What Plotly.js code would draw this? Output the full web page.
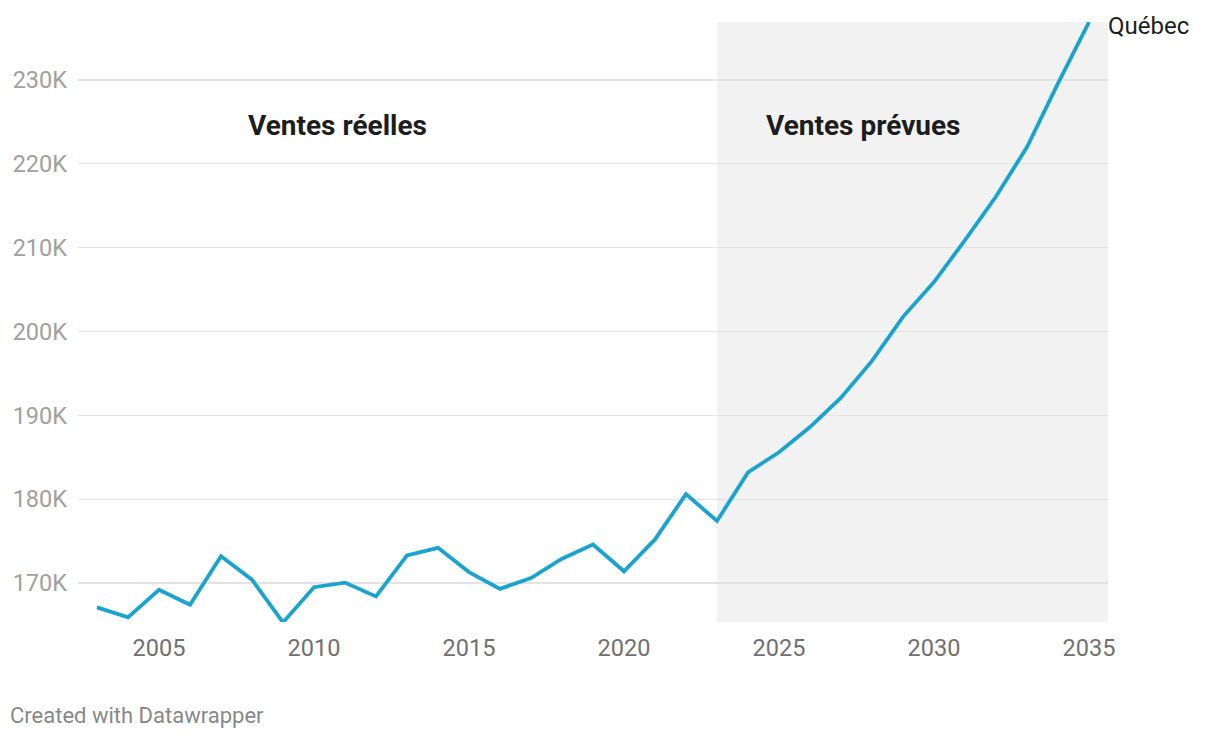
<!DOCTYPE html>
<html>
<head>
<meta charset="utf-8">
<script src="https://cdn.plot.ly/plotly-3.0.1.min.js"></script>
<style>
  html, body { margin: 0; padding: 0; background: #fff; }
  #chart { width: 1220px; height: 738px; }
</style>
</head>
<body>
<div id="chart"></div>
<script>
const years = [2003,2004,2005,2006,2007,2008,2009,2010,2011,2012,2013,2014,2015,2016,2017,2018,2019,2020,2021,2022,2023,2024,2025,2026,2027,2028,2029,2030,2031,2032,2033,2034,2035];
// Ventes (milliers)
const sales = [167.1,165.9,169.2,167.4,173.2,170.4,165.3,169.5,170.05,168.4,173.3,174.2,171.3,169.3,170.6,172.9,174.6,171.4,175.2,180.6,177.4,183.2,185.6,188.6,192.1,196.5,201.75,205.9,210.9,216.1,222.0,229.6,236.9];
const yTickVals = [170,180,190,200,210,220,230];
const yTickText = ["170K","180K","190K","200K","210K","220K","230K"];
const xTickVals = [2005,2010,2015,2020,2025,2030,2035];
const forecastStart = 2023;
const seriesName = "Québec";
const labelActual = "Ventes réelles";
const labelForecast = "Ventes prévues";
const credit = "Created with Datawrapper";

const xRange = [2002.387, 2035.613];
const yRange = [165.35, 236.92];

const trace = {
  x: years, y: sales, type: 'scatter', mode: 'lines',
  line: {color: '#1ba3cf', width: 3.8},
  hoverinfo: 'skip', showlegend: false
};

const layout = {
  width: 1220, height: 738,
  margin: {l: 78, r: 112, t: 22, b: 116},
  paper_bgcolor: '#ffffff', plot_bgcolor: 'rgba(0,0,0,0)',
  font: {family: 'Roboto, sans-serif'},
  showlegend: false,
  xaxis: {
    range: xRange, tickvals: xTickVals, ticktext: xTickVals.map(String),
    showgrid: false, zeroline: false, showline: false, ticks: '',
    tickfont: {size: 23.5, color: '#707070'}, ticklabelstandoff: 9, fixedrange: true
  },
  yaxis: {
    range: yRange, tickvals: yTickVals, ticktext: yTickText,
    showgrid: true, gridcolor: '#e3e3e3', gridwidth: 1.2, zeroline: false, showline: false, ticks: '',
    tickfont: {size: 23.5, color: '#a0a0a0'}, ticklabelstandoff: 10, fixedrange: true
  },
  shapes: [{
    type: 'rect', xref: 'x', yref: 'paper', x0: forecastStart, x1: xRange[1], y0: 0, y1: 1,
    fillcolor: '#f2f2f2', line: {width: 0}, layer: 'below'
  }],
  annotations: [
    {text: '<b>' + labelActual + '</b>', xref: 'x', yref: 'y', x: 2010.77, y: 224.6, showarrow: false,
     font: {size: 28, color: '#1d1d1d'}, xanchor: 'center', yanchor: 'middle'},
    {text: '<b>' + labelForecast + '</b>', xref: 'x', yref: 'y', x: 2027.71, y: 224.6, showarrow: false,
     font: {size: 28, color: '#1d1d1d'}, xanchor: 'center', yanchor: 'middle'},
    {text: seriesName, xref: 'paper', yref: 'y', x: 1, xshift: -2, y: sales[sales.length-1], showarrow: false,
     font: {size: 24, color: '#1d1d1d'}, xanchor: 'left', yanchor: 'middle', yshift: -4},
    {text: credit, xref: 'paper', yref: 'paper', x: 0, y: 0, xshift: -78 + 8, yshift: -93,
     showarrow: false, font: {size: 22, color: '#888888'}, xanchor: 'left', yanchor: 'middle'}
  ]
};

Plotly.newPlot('chart', [trace], layout, {displayModeBar: false, staticPlot: true});
</script>
</body>
</html>
